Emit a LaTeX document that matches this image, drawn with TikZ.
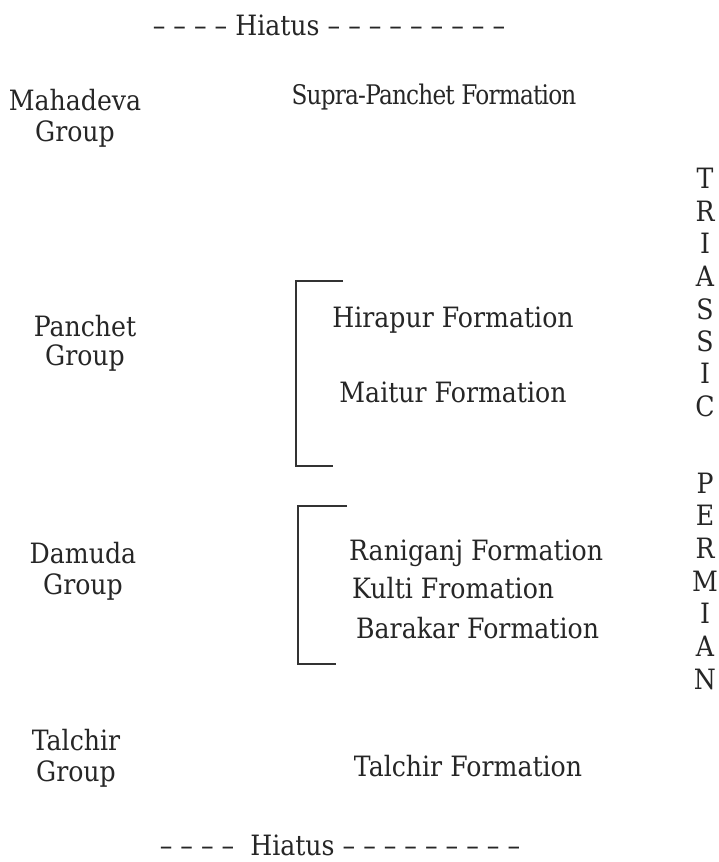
\documentclass[tikz,border=0pt]{standalone}
\usepackage{fontspec}
\setmainfont[FakeStretch=0.9]{DejaVu Serif}
\newfontfamily\suprafont[FakeStretch=0.86,LetterSpace=-3]{DejaVu Serif}
\begin{document}
\begin{tikzpicture}[x=1pt,y=-1pt,
  txt/.style={inner sep=0pt,font=\fontsize{28}{32}\selectfont,text=black!85},
  brk/.style={line width=1.2pt,black!80}]
\useasboundingbox (0,0) rectangle (718,862);
% hiatus lines
\node[txt] (htop) at (329,25) {-- -- -- -- Hiatus -- -- -- -- -- -- -- -- --};
\node[txt] (hbot) at (340,845) {-- -- -- -- \ Hiatus -- -- -- -- -- -- -- -- --};
% left column
\node[txt] (g1a) at (75,100) {Mahadeva};
\node[txt] (g1b) at (75,134) {Group};
\node[txt] (g2a) at (85,326) {Panchet};
\node[txt] (g2b) at (85,358) {Group};
\node[txt] (g3a) at (83,553) {Damuda};
\node[txt] (g3b) at (83,587) {Group};
\node[txt] (g4a) at (76,740) {Talchir};
\node[txt] (g4b) at (76,774) {Group};
% formations
\node[txt,font=\suprafont\fontsize{27}{31}\selectfont] (f1) at (434,97) {Supra-Panchet Formation};
\node[txt] (f2) at (453,320) {Hirapur Formation};
\node[txt] (f3) at (453,392) {Maitur Formation};
\node[txt,anchor=west] (f4) at (349,553) {Raniganj Formation};
\node[txt,anchor=west] (f5) at (352,588) {Kulti Fromation};
\node[txt,anchor=west] (f6) at (356,628) {Barakar Formation};
\node[txt] (f7) at (468,766) {Talchir Formation};
% brackets
\coordinate (b1t) at (296,281);
\coordinate (b1b) at (296,466);
\draw[brk] (343,281) -- (b1t) -- (b1b) -- (333,466);
\coordinate (b2t) at (298,506);
\coordinate (b2b) at (298,664);
\draw[brk] (347,506) -- (b2t) -- (b2b) -- (336,664);
% right column
\foreach \l/\y [count=\i] in {T/178,R/211,I/243,A/276,S/309,S/341,I/373,C/406,P/483,E/515,R/548,M/581,I/613,A/646,N/679}
  \node[txt] (r\i) at (705,\y) {\l};
\end{tikzpicture}
\end{document}
